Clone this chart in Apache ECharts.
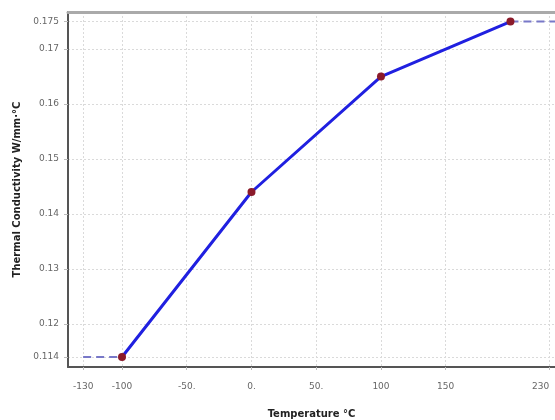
<!DOCTYPE html>
<html><head><meta charset="utf-8">
<script src="https://cdn.jsdelivr.net/npm/echarts@6/dist/echarts.min.js"></script>
<style>html,body{margin:0;padding:0;background:#fff}#c{width:555px;height:420px}</style>
</head><body><div id="c"></div>
<script>
const temperatures = [-100, 0, 100, 200];
const conductivity = [0.114, 0.144, 0.165, 0.175];
const xTicks = [-130, -100, -50, 0, 50, 100, 150, 230];
const xTickLabels = ['-130', '-100', '-50.', '0.', '50.', '100', '150', '230'];
const yTicks = [0.114, 0.12, 0.13, 0.14, 0.15, 0.16, 0.17, 0.175];
const yTickLabels = ['0.114', '0.12', '0.13', '0.14', '0.15', '0.16', '0.17', '0.175'];
const leftExt = [[-130, 0.114], [-100, 0.114]];
const rightExt = [[200, 0.175], [234.4, 0.175]];
const xMin = -141.7, xMax = 234.4, yMin = 0.11218, yMax = 0.17673;

const chart = echarts.init(document.getElementById('c'));
const labelStyle = {color: '#666', fontSize: 9, fontFamily: 'DejaVu Sans'};
const gridLine = {show: true, lineStyle: {color: '#dadada', type: [2, 2], width: 1}};
chart.setOption({
  animation: false,
  grid: {left: 68, right: 0, top: 12, bottom: 53, outerBoundsMode: 'none', containLabel: false},
  xAxis: [{
    type: 'value', min: xMin, max: xMax, position: 'bottom',
    name: 'Temperature °C', nameLocation: 'middle', nameGap: 42,
    nameTextStyle: {color: '#222', fontSize: 10, fontWeight: 'bold', fontFamily: 'DejaVu Sans'},
    axisLine: {show: true, onZero: false, lineStyle: {color: '#555', width: 2}},
    axisTick: {show: true, customValues: xTicks, length: 3, lineStyle: {color: '#bbb'}},
    axisLabel: Object.assign({customValues: xTicks, margin: 15, alignMaxLabel: 'right',
      formatter: v => { const i = xTicks.indexOf(v); return i >= 0 ? xTickLabels[i] : ''; }}, labelStyle),
    splitLine: gridLine
  }, {
    type: 'value', min: xMin, max: xMax, position: 'top',
    axisLine: {show: true, onZero: false, lineStyle: {color: '#aaa', width: 3}},
    axisTick: {show: false}, axisLabel: {show: false}, splitLine: {show: false}
  }],
  yAxis: {
    type: 'value', min: yMin, max: yMax,
    name: 'Thermal Conductivity W/mm·°C', nameLocation: 'middle', nameGap: 46,
    nameTextStyle: {color: '#222', fontSize: 10, fontWeight: 'bold', fontFamily: 'DejaVu Sans'},
    axisLine: {show: true, onZero: false, lineStyle: {color: '#555', width: 2}},
    axisTick: {show: true, customValues: yTicks, length: 4, lineStyle: {color: '#bbb'}},
    axisLabel: Object.assign({customValues: yTicks, margin: 9,
      formatter: v => { const i = yTicks.findIndex(t => Math.abs(t - v) < 1e-9); return i >= 0 ? yTickLabels[i] : ''; }}, labelStyle),
    splitLine: gridLine
  },
  series: [
    {type: 'line', data: leftExt, symbol: 'none', lineStyle: {color: '#7878c8', width: 2, type: [8, 5]}},
    {type: 'line', data: rightExt, symbol: 'none', lineStyle: {color: '#7878c8', width: 2, type: [8, 5]}},
    {type: 'line', data: temperatures.map((t, i) => [t, conductivity[i]]),
     symbol: 'circle', symbolSize: 8,
     lineStyle: {color: '#2020e0', width: 3},
     itemStyle: {color: '#8b1a2a', borderWidth: 0}}
  ]
});
</script></body></html>
